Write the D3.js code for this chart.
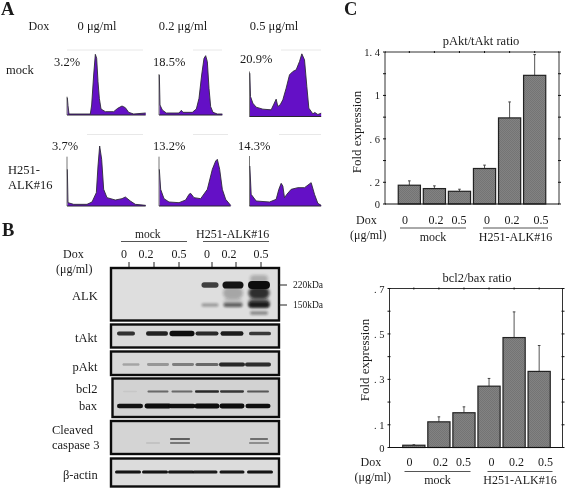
<!DOCTYPE html>
<html><head><meta charset="utf-8">
<style>html,body{margin:0;padding:0;background:#fff}svg{display:block;filter:blur(0.3px)}text{font-family:"Liberation Serif",serif;fill:#1a1a1a}</style>
<script src="https://cdn.jsdelivr.net/npm/d3@7/dist/d3.min.js"></script></head>
<body><svg id="c" width="567" height="489"></svg>
<script>
// ---------- data ----------
const doxA = ["0 μg/ml","0.2 μg/ml","0.5 μg/ml"];
const rowsA = ["mock","H251-ALK#16"];
const pctMock = ["3.2%","18.5%","20.9%"];
const pctAlk = ["3.7%","13.2%","14.3%"];
const histMock0 = [[0,55],[1,52],[3,28],[6,3],[70,3],[74,30],[80,120],[85,182],[89,170],[93,100],[97,50],[102,18],[115,10],[140,10],[152,20],[165,27],[175,22],[185,8],[200,3],[236,6]];
const histMock2 = [[0,123],[1,120],[3,30],[10,15],[22,6],[60,6],[67,14],[72,8],[100,8],[112,18],[120,50],[128,120],[135,170],[140,178],[145,160],[150,80],[155,25],[162,8],[175,3],[190,3]];
const histMock5 = [[0,135],[1,130],[3,60],[10,40],[20,28],[40,22],[65,20],[72,35],[80,52],[85,30],[92,35],[100,50],[110,85],[120,125],[130,135],[140,140],[150,165],[157,188],[165,170],[172,90],[178,25],[190,8],[196,12],[205,6],[215,10]];
const histAlk0 = [[0,148],[1,110],[3,10],[20,5],[60,5],[75,12],[88,40],[93,120],[98,180],[104,140],[110,50],[120,25],[145,18],[165,22],[175,27],[190,15],[205,5],[236,2]];
const histAlk2 = [[0,148],[1,110],[5,50],[15,22],[30,12],[60,10],[80,18],[90,35],[95,38],[105,25],[125,22],[145,50],[160,110],[170,135],[175,140],[182,110],[190,50],[200,20],[215,2]];
const histAlk5 = [[0,150],[1,120],[5,35],[20,15],[60,12],[80,20],[88,50],[95,68],[100,60],[105,25],[112,35],[125,50],[145,55],[165,55],[185,70],[195,35],[205,8],[215,2]];

const lanes = ["0","0.2","0.5","0","0.2","0.5"];
const tAkt = [.78,.85,1,.82,.88,.75];
const pAkt = [.24,.3,.42,.52,.82,.8];
const bcl2 = [.05,.5,.5,.82,.75,.58];
const bax = [.92,.96,.94,1,.96,.94];
const casp1 = [0,0,.75,0,0,.65];
const casp2 = [0,.1,.6,0,0,.45];
const actin = [.92,.92,.9,.88,.9,.92];
const alk240 = [0,0,0,0,0,.22];
const alk220 = [0,0,0,.72,.92,1];
const alk200 = [0,0,0,0,.25,.8];
const alk180 = [0,0,0,0,.15,.65];
const alk150 = [0,0,0,.3,.5,.8];
const alk130 = [0,0,0,0,0,.35];

const doseC = ["0","0.2","0.5","0","0.2","0.5"];
const pAktRatio = [0.173,0.142,0.117,0.327,0.793,1.185];
const pAktErr = [0.213,0.167,0.136,0.358,0.94,1.376];
const bclRatio = [0.01,0.113,0.153,0.27,0.484,0.335];
const bclErr = [0.012,0.135,0.179,0.304,0.597,0.449];
const pAktTicks = [[0,"0"],[0.2,". 2"],[0.6,". 6"],[1,"1"],[1.4,"1. 4"]];
const bclTicks = [[0,"0"],[0.1,". 1"],[0.3,". 3"],[0.5,". 5"],[0.7,". 7"]];

// ---------- helpers ----------
const svg = d3.select("#c");
const defs = svg.append("defs");
[0.4,0.7,1.2,1.8].forEach((s,i)=>defs.append("filter").attr("id","b"+i)
  .attr("x","-30%").attr("y","-150%").attr("width","160%").attr("height","400%")
  .append("feGaussianBlur").attr("stdDeviation",s));
const pat=defs.append("pattern").attr("id","stip").attr("width",2).attr("height",2).attr("patternUnits","userSpaceOnUse");
pat.append("rect").attr("width",2).attr("height",2).attr("fill","#828282");
pat.append("rect").attr("width",1).attr("height",1).attr("fill","#747474");
pat.append("rect").attr("x",1).attr("y",1).attr("width",1).attr("height",1).attr("fill","#747474");
const T=(x,y,s,size,opt={})=>{const t=svg.append("text").attr("x",x).attr("y",y).attr("font-size",size).text(s);
  if(opt.anchor)t.attr("text-anchor",opt.anchor); if(opt.bold)t.attr("font-weight","bold");return t;};

// ---------- panel letters ----------
T(1,15,"A",18.5,{bold:1});T(2,236,"B",18.5,{bold:1});T(344,15,"C",18.5,{bold:1});

// ---------- panel A ----------
T(28.5,30,"Dox",12);
doxA.forEach((d,i)=>T([97,183,274][i],30,d,12.5,{anchor:"middle"}));
T(6,74,rowsA[0],12.5);
T(8,174,"H251-",12.5);T(8,189,"ALK#16",12.5);
const plotsA=[
 {d:histMock0,x:67,base:115,p:pctMock[0],px:54,py:66,top:[67,143],ty:50},
 {d:histMock2,x:159,base:115,p:pctMock[1],px:153,py:66,top:[193,222],ty:50},
 {d:histMock5,x:249.5,base:116.5,p:pctMock[2],px:240,py:63,top:[281,321],ty:50},
 {d:histAlk0,x:67,base:206,p:pctAlk[0],px:52,py:150,top:[87,143],ty:134.5},
 {d:histAlk2,x:159,base:206,p:pctAlk[1],px:153,py:150,top:[193,228],ty:134.5},
 {d:histAlk5,x:249.5,base:206,p:pctAlk[2],px:238,py:150,top:[279,321],ty:134.5}];
plotsA.forEach(p=>{
  const maxC=d3.max(p.d,d=>d[0]);
  const x=d3.scaleLinear([0,236],[p.x,p.x+236/3]);
  const y=d3.scaleLinear([0,190],[p.base,p.base-190/3]);
  svg.append("line").attr("x1",p.top[0]).attr("x2",p.top[1]).attr("y1",p.ty).attr("y2",p.ty).attr("stroke","#e8e8e8").attr("stroke-width",1);
  svg.append("path").attr("fill","#6410c6").attr("d",d3.area().x(d=>x(d[0])).y0(p.base).y1(d=>y(d[1]))(p.d.slice(1)));
  svg.append("line").attr("x1",x(0)).attr("x2",x(0)).attr("y1",p.base).attr("y2",y(p.d[0][1])).attr("stroke","#777").attr("stroke-width",1);
  svg.append("path").attr("fill","none").attr("stroke","#2e2a38").attr("stroke-width",0.9).attr("d",d3.line().x(d=>x(d[0])).y(d=>y(d[1]))(p.d.slice(1)));
  svg.append("line").attr("x1",x(0)).attr("x2",x(maxC)).attr("y1",p.base).attr("y2",p.base).attr("stroke","#2a2532").attr("stroke-width",1);
  T(p.px,p.py,p.p,12.5);
});

// ---------- panel B ----------
T(135,238,"mock",11.5);
T(196,238,"H251-ALK#16",12);
svg.append("line").attr("x1",121).attr("x2",187).attr("y1",241.5).attr("y2",241.5).attr("stroke","#555").attr("stroke-width",1);
svg.append("line").attr("x1",203).attr("x2",269).attr("y1",241.5).attr("y2",241.5).attr("stroke","#555").attr("stroke-width",1);
T(63,258,"Dox",12);T(56,273,"(μg/ml)",12);
const topX=d3.scaleOrdinal(d3.range(6),[124,146,179,207,229,261]);
lanes.forEach((l,i)=>T(topX(i),258,l,12,{anchor:"middle"}));
const tickX=d3.scaleOrdinal(d3.range(6),[129,154,179,212,236,261]);
lanes.forEach((l,i)=>svg.append("line").attr("x1",tickX(i)).attr("x2",tickX(i)).attr("y1",262).attr("y2",268).attr("stroke","#222").attr("stroke-width",1));

const blots=[
 {name:"ALK",x0:111,x1:279,y0:268,y1:320.5,bg:"#dedede",label:[["ALK",72,300]],
  rows:[{off:11,lv:alk240,w:[0,0,0,0,0,18],h:8,blur:3},
        {off:25,lv:alk200,w:[0,0,0,0,20,21],h:12,blur:3},
        {off:17,lv:alk220,w:[17,20,21,17,21,22],h:3,th:5,blur:1},
        {off:35,lv:alk180,w:[0,0,0,0,19,21],h:8,blur:3},
        {off:37,lv:alk150,w:[17,19,20,17,19,21],h:3,th:4,blur:2},
        {off:45,lv:alk130,w:[0,0,0,0,0,18],h:4,blur:2}],
  lanes:[132,157,182,210,233,259]},
 {name:"tAkt",x0:111,x1:279,y0:324.5,y1:347.5,bg:"#dadada",label:[["tAkt",75,342]],
  rows:[{off:9,lv:tAkt,w:[18,22,25,23,23,22],h:1.6,th:3.8,blur:0}],lanes:[126,157,182,207,232,260]},
 {name:"pAkt",x0:111,x1:279,y0:351.5,y1:375,bg:"#d8d8d8",label:[["pAkt",72.5,371]],
  rows:[{off:13,lv:pAkt,w:[17,22,22,23,26,26],h:2.6,th:2,blur:1}],lanes:[131,158,183,207,232,258]},
 {name:"bax",x0:112.5,x1:279,y0:378.5,y1:417,bg:"#d2d2d2",label:[["bcl2",76,393],["bax",79,410]],
  rows:[{off:13,lv:bcl2,w:[14,21,21,24,24,22],h:1.6,th:1.2,blur:0},
        {off:27.5,lv:bax,w:[26,27,27,25,25,25],h:2,th:3,blur:0}],lanes:[130,158,182,207,232,258]},
 {name:"casp",x0:111,x1:279,y0:421,y1:454,bg:"#d4d4d4",label:[["Cleaved",52,434],["caspase 3",52,449]],
  rows:[{off:18,lv:casp1,w:[0,0,20,0,0,18],h:1.5,blur:0},
        {off:22,lv:casp2,w:[0,14,20,0,0,20],h:1.5,blur:0}],lanes:[130,153,180,207,232,259]},
 {name:"actin",x0:111,x1:279,y0:458.5,y1:486.5,bg:"#dcdcdc",label:[["β-actin",63,479]],
  rows:[{off:13.5,lv:actin,w:[26,26,26,25,25,26],h:3,th:0,blur:0}],lanes:[128,155,181,205,232,260]}
];
blots.forEach(b=>{
  svg.append("rect").attr("x",b.x0).attr("y",b.y0).attr("width",b.x1-b.x0).attr("height",b.y1-b.y0)
    .attr("fill",b.bg).attr("stroke","#0c0c0c").attr("stroke-width",2.4);
  defs.append("clipPath").attr("id","cl"+b.name).append("rect").attr("x",b.x0+1).attr("y",b.y0+1).attr("width",b.x1-b.x0-2).attr("height",b.y1-b.y0-2);
  const g=svg.append("g").attr("clip-path",`url(#cl${b.name})`);
  const H=(r,d)=>r.h+(r.th||0)*d.v*d.v;
  b.rows.forEach(r=>{
    g.selectAll(null).data(r.lv.map((v,i)=>({v,i})).filter(d=>d.v>0)).join("rect")
      .attr("x",d=>b.lanes[d.i]-r.w[d.i]/2).attr("width",d=>r.w[d.i])
      .attr("y",d=>b.y0+r.off-H(r,d)/2).attr("height",d=>H(r,d))
      .attr("rx",d=>H(r,d)/2)
      .attr("fill","#0a0a0a").attr("opacity",d=>Math.min(1,d.v*1.05))
      .attr("filter",`url(#b${r.blur})`);
  });
  b.label.forEach(l=>T(l[1],l[2],l[0],12.5));
});
[["220kDa",285],["150kDa",305]].forEach(([s,y])=>{
  svg.append("line").attr("x1",279).attr("x2",287).attr("y1",y).attr("y2",y).attr("stroke","#222").attr("stroke-width",1);
  T(293,y+3,s,9.5);
});

// ---------- panel C ----------
function bars(o){
  const y=d3.scaleLinear([0,o.max],[o.y1,o.y0]);
  const x=d3.scaleBand(d3.range(6),[o.x0+o.pad,o.x0+o.pad+150]).paddingInner(0.115).paddingOuter(0.05);
  const g=svg.append("g");
  T(o.tx,o.y0-7,o.title,12.5,{anchor:"middle"});
  g.selectAll(null).data(o.err).join("line").attr("x1",(d,i)=>x(i)+x.bandwidth()/2).attr("x2",(d,i)=>x(i)+x.bandwidth()/2)
    .attr("y1",(d,i)=>y(o.val[i])).attr("y2",d=>y(d)).attr("stroke","#555").attr("stroke-width",1);
  g.selectAll(null).data(o.err).join("line").attr("x1",(d,i)=>x(i)+x.bandwidth()/2-1.3).attr("x2",(d,i)=>x(i)+x.bandwidth()/2+1.3)
    .attr("y1",d=>y(d)).attr("y2",d=>y(d)).attr("stroke","#444").attr("stroke-width",1);
  g.selectAll(null).data(o.val).join("rect").attr("x",(d,i)=>x(i)).attr("width",x.bandwidth())
    .attr("y",d=>y(d)).attr("height",d=>y(0)-y(d)).attr("fill","url(#stip)").attr("stroke","#222").attr("stroke-width",1.2);
  const fr=g.append("g").attr("stroke","#333").attr("fill","none");
  fr.append("path").attr("stroke-width",1).attr("d",`M${o.x0},${o.y1}V${o.y0}H${o.x1}V${o.y1}`);
  fr.append("path").attr("stroke-width",1).attr("stroke","#111").attr("d",`M${o.x0},${o.y1}H${o.x1}`);
  d3.range(0,o.max+1e-6,o.step).forEach(v=>{
    fr.append("line").attr("x1",o.x0-2).attr("x2",o.x0+1).attr("y1",y(v)).attr("y2",y(v)).attr("stroke","#111");
    fr.append("line").attr("x1",o.x1-1).attr("x2",o.x1+2).attr("y1",y(v)).attr("y2",y(v)).attr("stroke","#111");
  });
  d3.range(6).forEach(i=>fr.append("line").attr("x1",x(i)+x.bandwidth()/2).attr("x2",x(i)+x.bandwidth()/2).attr("y1",o.y0-1).attr("y2",o.y0+1).attr("stroke","#111"));
  o.ticks.forEach(([v,s])=>T(o.x0-5,y(v)+4,s,10.5,{anchor:"end"}).attr("font-family","Liberation Sans"));
  svg.append("text").attr("transform",`translate(${o.x0-o.ylabX},${(o.y0+o.y1)/2+o.ylabDy}) rotate(-90)`)
    .attr("text-anchor","middle").attr("font-size",13).text("Fold expression");
  const lbl=[o.x0+20,o.x0+51,o.x0+74,o.x0+102,o.x0+127,o.x0+156];
  doseC.forEach((d,i)=>T(lbl[i],o.y1+o.lab,d,12,{anchor:"middle"}));
  T(o.x0-29,o.y1+o.lab,"Dox",12);
  T(o.x0-35,o.y1+o.lab+15,"(μg/ml)",12);
  [[o.x0+15,o.x0+81,"mock"],[o.x0+98,o.x0+163,"H251-ALK#16"]].forEach(([a,b,s])=>{
    svg.append("line").attr("x1",a).attr("x2",b).attr("y1",o.y1+24).attr("y2",o.y1+24).attr("stroke","#555").attr("stroke-width",1);
    T((a+b)/2,o.y1+36.5,s,12,{anchor:"middle"});
  });
}
bars({x0:385,x1:559,y0:52,y1:204,tx:481,max:1.4,step:0.2,pad:12,val:pAktRatio,err:pAktErr,ticks:pAktTicks,title:"pAkt/tAkt ratio",lab:20,ylabDy:4,ylabX:24});
bars({x0:389.5,x1:562.5,y0:288.5,y1:447.5,tx:477,max:0.7,step:0.1,pad:12,val:bclRatio,err:bclErr,ticks:bclTicks,title:"bcl2/bax ratio",lab:18,ylabDy:-8,ylabX:21});
</script></body></html>
